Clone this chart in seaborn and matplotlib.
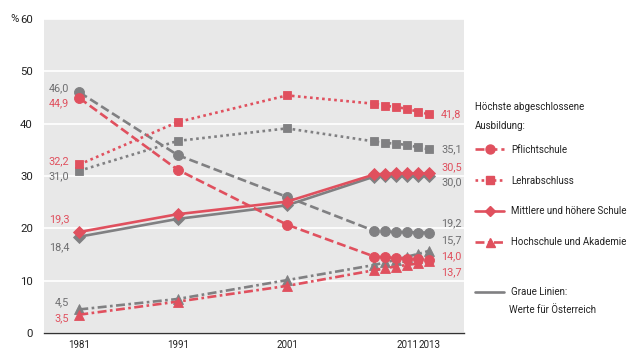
import matplotlib
matplotlib.use("Agg")
import matplotlib.pyplot as plt
import seaborn as sns
from matplotlib.lines import Line2D

# ---- data (x = position on the time axis as drawn in the reference) ----
years = [1981, 1990, 2000, 2008, 2009, 2010, 2011, 2012, 2013]
tick_pos = [1981, 1990, 2000, 2011, 2013]
tick_labels = ["1981", "1991", "2001", "2011", "2013"]
y_ticks = [0, 10, 20, 30, 40, 50, 60]

categories = ["Pflichtschule", "Lehrabschluss", "Mittlere und höhere Schule",
              "Hochschule und Akademie"]

red_pflicht = [44.9, 31.2, 20.7, 14.6, 14.5, 14.3, 14.2, 14.1, 14.0]
red_lehr = [32.2, 40.3, 45.4, 43.8, 43.4, 43.2, 42.8, 42.3, 41.8]
red_mittel = [19.3, 22.7, 25.1, 30.3, 30.4, 30.5, 30.5, 30.5, 30.5]
red_hoch = [3.5, 6.0, 9.0, 12.0, 12.4, 12.7, 13.0, 13.3, 13.7]

gray_pflicht = [46.0, 34.0, 26.0, 19.5, 19.4, 19.3, 19.3, 19.2, 19.2]
gray_lehr = [31.0, 36.7, 39.1, 36.6, 36.3, 36.2, 35.9, 35.5, 35.1]
gray_mittel = [18.4, 21.8, 24.4, 29.9, 30.0, 30.0, 30.0, 30.0, 30.0]
gray_hoch = [4.5, 6.5, 10.1, 13.0, 13.5, 14.0, 14.6, 15.1, 15.7]

red_series = [red_pflicht, red_lehr, red_mittel, red_hoch]
gray_series = [gray_pflicht, gray_lehr, gray_mittel, gray_hoch]

legend_title = "Höchste abgeschlossene\nAusbildung:"
gray_note_1 = "Graue Linien:"
gray_note_2 = "Werte für Österreich"

# ---- style ----
RED = "#E0505E"
GRAY = "#808082"
GRAY_TXT = "#6E6E70"
TXT = "#222222"
BG = "#E8E8E8"

sns.set_theme(style="white")
plt.rcParams["font.family"] = ["Roboto", "DejaVu Sans"]
FS_TICK_Y = 8.2
FS_TICK_X = 7.0
FS_LAB = 7.8
FS_LEG = 7.0

markers = ["o", "s", "D", "^"]
msizes = [7.2, 6.2, 6.2, 7.2]
lw = 1.9
linestyles = [(0, (3.4, 1.5)), (0, (1.0, 1.3)), "-", (0, (3.4, 1.3, 1.0, 1.3))]

fig = plt.figure(figsize=(6.31, 3.52), dpi=100)
ax = fig.add_axes([44 / 631, 19 / 352, 420 / 631, 314 / 352])
ax.set_facecolor(BG)

for series, color in ((gray_series, GRAY), (red_series, RED)):
    for vals, m, ms, ls in zip(series, markers, msizes, linestyles):
        sns.lineplot(x=years, y=vals, ax=ax, color=color, marker=m,
                     markersize=ms, markeredgecolor=color, markeredgewidth=0.6,
                     linestyle=ls, linewidth=lw, legend=False)

ax.set_xlim(1977.77, 2016.2)
ax.set_ylim(0, 60)
ax.set_yticks(y_ticks)
ax.set_yticklabels([str(v) for v in y_ticks], fontsize=FS_TICK_Y, color=TXT)
ax.set_xticks(tick_pos)
ax.set_xticklabels(tick_labels, fontsize=FS_TICK_X, color=TXT)
ax.tick_params(axis="y", length=0, pad=8)
ax.tick_params(axis="x", direction="in", length=6, width=1, color="#333333", pad=5)
ax.grid(axis="y", color="white", linewidth=1.2)
ax.grid(axis="x", visible=False)
ax.set_axisbelow(True)
for s in ("left", "right", "top"):
    ax.spines[s].set_visible(False)
ax.spines["bottom"].set_color("#333333")
ax.spines["bottom"].set_linewidth(1.0)
ax.set_xlabel("")
ax.set_ylabel("")

fig.text(15 / 631, 1 - 19 / 352, "%", fontsize=FS_TICK_Y, color=TXT, ha="center", va="center")


def lab(x, y, text, color, dx, dy, ha):
    ax.annotate(text, xy=(x, y), xytext=(dx, dy), textcoords="offset pixels",
                ha=ha, va="center", fontsize=FS_LAB, color=color)


def fmt(v):
    return f"{v:.1f}".replace(".", ",")

# left labels (dy in pixels, up positive)
left_red_dy = [-5, 3, 13, -4]
left_gray_dy = [4, -5, -11, 7]
for vals, dy in zip(red_series, left_red_dy):
    lab(years[0], vals[0], fmt(vals[0]), RED, -10, dy, "right")
for vals, dy in zip(gray_series, left_gray_dy):
    lab(years[0], vals[0], fmt(vals[0]), GRAY_TXT, -10, dy, "right")

right_red_dy = [4, 0, 6, -11]
right_gray_dy = [9, 0, -6, 11]
for vals, dy in zip(red_series, right_red_dy):
    lab(years[-1], vals[-1], fmt(vals[-1]), RED, 12, dy, "left")
for vals, dy in zip(gray_series, right_gray_dy):
    lab(years[-1], vals[-1], fmt(vals[-1]), GRAY_TXT, 12, dy, "left")

# legend
handles = [Line2D([], [], color=RED, marker=m, markersize=ms * 0.9, markeredgecolor=RED,
                  linestyle=ls, linewidth=lw)
           for m, ms, ls in zip(markers, msizes, linestyles)]
leg = ax.legend(handles, categories, title=legend_title, loc="upper left",
                bbox_to_anchor=(475 / 631, 1 - 102 / 352), bbox_transform=fig.transFigure,
                frameon=False, fontsize=FS_LEG, title_fontsize=FS_LEG, alignment="left",
                handlelength=3.0, handletextpad=0.7, labelspacing=2.15, borderpad=0,
                borderaxespad=0)
for t in leg.get_texts():
    t.set_color(TXT)
leg.get_title().set_color(TXT)
leg.get_title().set_linespacing(2.1)
leg._legend_box.sep = 10
ax.add_artist(leg)

leg2 = ax.legend([Line2D([], [], color=GRAY, linewidth=lw)], [gray_note_1],
                 loc="center left", bbox_to_anchor=(475 / 631, 1 - 292 / 352),
                 bbox_transform=fig.transFigure, frameon=False, fontsize=FS_LEG,
                 handlelength=3.0, handletextpad=0.7, borderpad=0, borderaxespad=0)
for t in leg2.get_texts():
    t.set_color(TXT)
fig.text(509 / 631, 1 - 310 / 352, gray_note_2, fontsize=FS_LEG, color=TXT,
         ha="left", va="center")

fig.savefig("out.png", dpi=100)
